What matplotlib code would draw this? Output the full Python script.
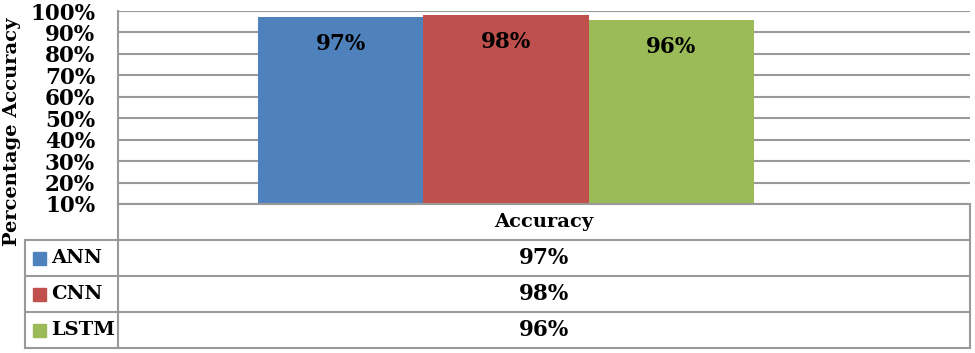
import matplotlib.pyplot as plt
import matplotlib.patches as patches

# data
models = ["ANN", "CNN", "LSTM"]
accuracy = [97, 98, 96]
colors = ["#4F81BD", "#C0504D", "#9BBB59"]
category = "Accuracy"
yticks = [10, 20, 30, 40, 50, 60, 70, 80, 90, 100]

W, H = 975, 353
fig = plt.figure(figsize=(W / 100, H / 100), dpi=100)
font = dict(family="DejaVu Serif", weight="bold")
grid_c = "#999999"
num_fs = 15.5

# plot area in pixels
left, right, top, bottom = 118, 970, 11, 204
ax = fig.add_axes([left / W, 1 - bottom / H, (right - left) / W, (bottom - top) / H])
bw = 165.3
ax.bar(range(len(models)), accuracy, width=1.0, bottom=0, color=colors, zorder=2)
ax.set_xlim(-0.5 - (258 - left) / bw, 2.5 + (right - 754) / bw)
ax.set_ylim(10, 100)
ax.set_yticks(yticks)
ax.set_yticklabels([f"{v}%" for v in yticks], fontsize=num_fs, **font)
ax.yaxis.grid(True, color=grid_c, linewidth=1.5, zorder=0)
ax.set_xticks([])
ax.tick_params(axis="y", length=0, pad=16.5)
for s in ["top", "right", "bottom"]:
    ax.spines[s].set_visible(False)
ax.spines["left"].set_color(grid_c)
ax.spines["left"].set_linewidth(1.5)
for i, v in enumerate(accuracy):
    ax.text(i, v - 12.6, f"{v}%", ha="center", va="center", fontsize=num_fs, **font)

# overlay for the data table (pixel coords)
ov = fig.add_axes([0, 0, 1, 1])
ov.set_xlim(0, W)
ov.set_ylim(H, 0)
ov.axis("off")
lw = 1.5
rows = [204, 240, 276, 312, 348]
ov.plot([left, right], [204, 204], color=grid_c, lw=lw)
for y in rows[1:]:
    ov.plot([25, right], [y, y], color=grid_c, lw=lw)
ov.plot([right, right], [204, 348], color=grid_c, lw=lw)
ov.plot([left, left], [204, 348], color=grid_c, lw=lw)
ov.plot([25, 25], [240, 348], color=grid_c, lw=lw)

mid = (left + right) / 2
ov.text(mid, 222, category, ha="center", va="center", fontsize=14, **font)
for i, (m, v, c) in enumerate(zip(models, accuracy, colors)):
    yc = (rows[i + 1] + rows[i + 2]) / 2
    ov.add_patch(patches.Rectangle((33, yc - 6.5), 13, 13, color=c))
    ov.text(51, yc, m, ha="left", va="center", fontsize=14, **font)
    ov.text(mid, yc, f"{v}%", ha="center", va="center", fontsize=num_fs, **font)

fig.text(12 / W, 1 - 132 / H, "Percentage Accuracy", rotation=90,
         ha="center", va="center", fontsize=14, **font)

fig.savefig("out.png", dpi=100)
